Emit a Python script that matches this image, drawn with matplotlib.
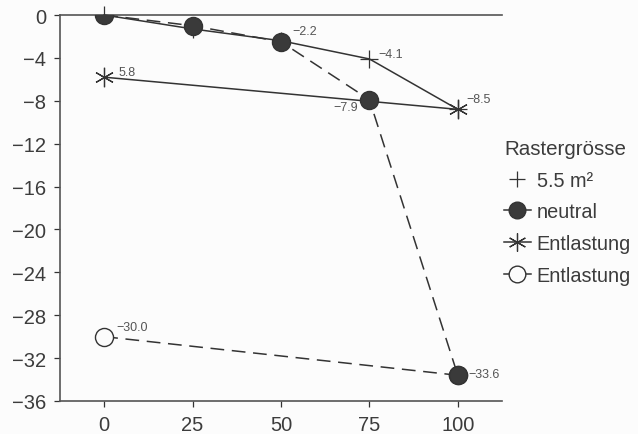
import numpy as np
import matplotlib
matplotlib.use('Agg')
import matplotlib.pyplot as plt
from matplotlib.lines import Line2D

plt.rcParams['font.family'] = ['Liberation Sans', 'DejaVu Sans']

# Data
x_plus = [0, 25, 50, 75, 100]
y_plus = [0, -1.3, -2.4, -4.1, -8.8]

x_neutral = [0, 25, 50, 75, 100]
y_neutral = [0, -1.0, -2.5, -7.9, -33.6]

x_star = [0, 100]
y_star = [-5.8, -8.8]

x_open = [0, 100]
y_open = [-30.0, -33.6]

# value labels (text, x, y, dx px, dy px, ha)
labels = [
    ('\u22122.2', 50, -2.5, 11, 11, 'left'),
    ('\u22124.1', 75, -4.1, 9, 5, 'left'),
    ('\u22128.5', 100, -8.8, 9, 10, 'left'),
    ('\u22127.9', 75, -7.9, -11, -7, 'right'),
    ('5.8', 0, -5.8, 14, 5, 'left'),
    ('\u221230.0', 0, -30.0, 12, 10, 'left'),
    ('\u221233.6', 100, -33.6, 11, 1, 'left'),
]

legend_names = ['5.5 m\u00b2', 'neutral', 'Entlastung', 'Entlastung']

col = '#333333'
txt = '#3c3c3c'
bg = '#fcfcfc'

fig = plt.figure(figsize=(6.38, 4.35), dpi=100, facecolor=bg)
ax = fig.add_axes([60/638, 1 - 402/435, (502-60)/638, (402-16)/435])
ax.set_facecolor(bg)

ax.plot(x_open, y_open, color=col, lw=1.1, dashes=(9, 5),
        marker='o', ms=13, mfc=bg, mec=col, mew=1.0, zorder=2)
ax.plot(x_star, y_star, color=col, lw=1.1, marker=(6, 2, 0), ms=14,
        mew=0.9, zorder=3)
ax.plot(x_plus, y_plus, color=col, lw=1.1, marker='+', ms=13, mew=0.9,
        zorder=3, clip_on=False)
ax.plot(x_neutral, y_neutral, color=col, lw=1.1, dashes=(9, 5),
        marker='o', ms=13, mfc='#3a3a3a', mec=col, zorder=4)

for t, xv, yv, dx, dy, ha in labels:
    ax.annotate(t, (xv, yv), xytext=(dx * 0.72, dy * 0.72),
                textcoords='offset points', fontsize=9, color='#555555',
                ha=ha, va='center')

ax.set_xlim(-12.5, 112.5)
ax.set_ylim(-36, 0)
ax.set_xticks([0, 25, 50, 75, 100])
ax.set_yticks(np.arange(0, -37, -4))
ax.set_yticklabels(['0'] + ['\u2212%d' % v for v in range(4, 37, 4)])
ax.tick_params(axis='both', labelsize=14.5, colors=col, labelcolor=txt,
               length=4, width=0.9, pad=6)
ax.spines['right'].set_visible(False)
for s in ['left', 'bottom', 'top']:
    ax.spines[s].set_color('#555555')
    ax.spines[s].set_linewidth(1.2)

handles = [
    Line2D([], [], color=col, ls='none', marker='+', ms=12, mew=0.9),
    Line2D([], [], color=col, lw=1.1, marker='o', ms=12, mfc='#3a3a3a', mec=col),
    Line2D([], [], color=col, lw=1.1, marker=(6, 2, 0), ms=13, mew=0.9),
    Line2D([], [], color=col, lw=1.1, marker='o', ms=12, mfc=bg, mec=col),
]
leg = fig.legend(handles, legend_names, title='Rastergrösse',
                 loc='upper left', bbox_to_anchor=(504/638, 1 - 140/435),
                 frameon=False, fontsize=14.3, title_fontsize=14.8,
                 handlelength=1.35, handletextpad=0.3, labelspacing=0.64,
                 alignment='left', borderpad=0, borderaxespad=0)
for t in leg.get_texts():
    t.set_color(txt)
leg.get_title().set_color(txt)

fig.savefig('out.png', dpi=100, facecolor=bg)
